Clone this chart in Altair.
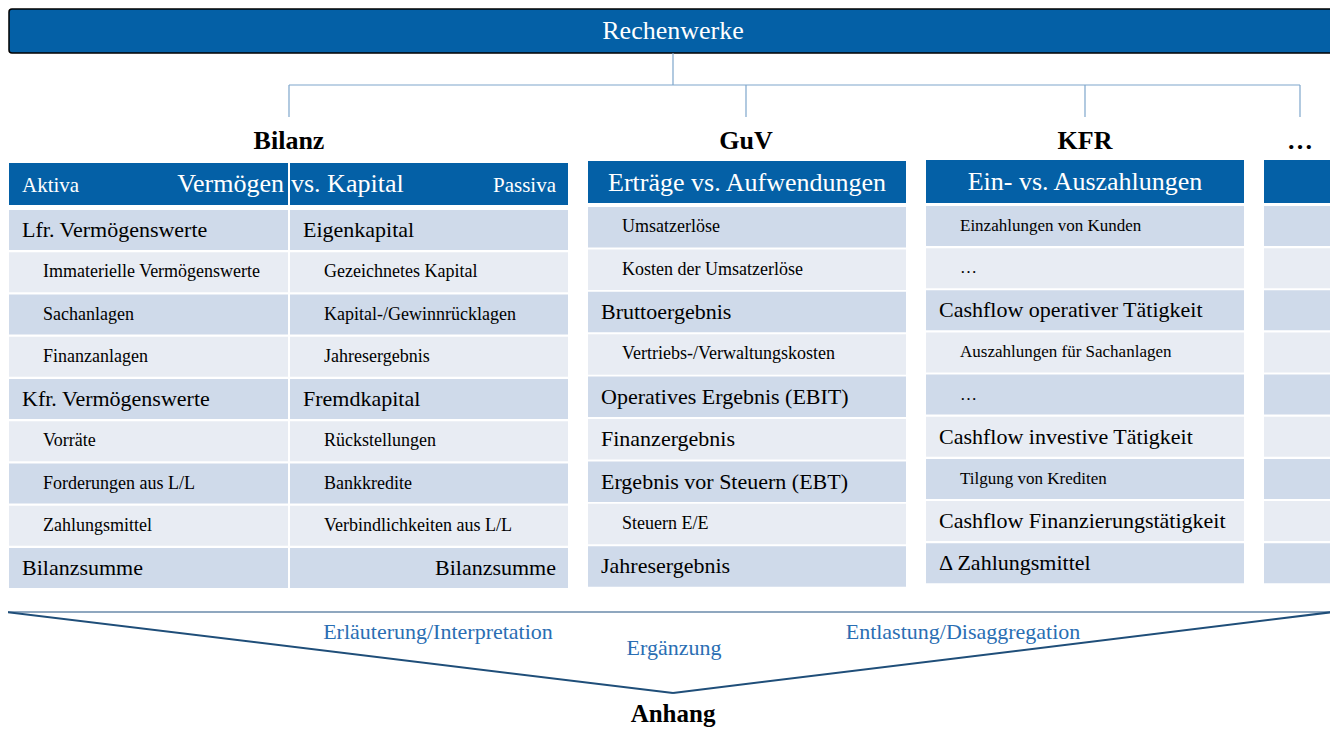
import altair as alt
import pandas as pd

# ---------------- content ----------------
top_title = "Rechenwerke"
statements = ["Bilanz", "GuV", "KFR", "…"]
bilanz_sides = ["Aktiva", "Passiva"]
bilanz_header = ["Vermögen", "vs. Kapital"]
guv_header = "Erträge vs. Aufwendungen"
kfr_header = "Ein- vs. Auszahlungen"

aktiva_items = ["Lfr. Vermögenswerte", "Immaterielle Vermögenswerte", "Sachanlagen",
                "Finanzanlagen", "Kfr. Vermögenswerte", "Vorräte",
                "Forderungen aus L/L", "Zahlungsmittel", "Bilanzsumme"]
aktiva_levels = [0, 1, 1, 1, 0, 1, 1, 1, 0]

passiva_items = ["Eigenkapital", "Gezeichnetes Kapital", "Kapital-/Gewinnrücklagen",
                 "Jahresergebnis", "Fremdkapital", "Rückstellungen", "Bankkredite",
                 "Verbindlichkeiten aus L/L", "Bilanzsumme"]
passiva_levels = [0, 1, 1, 1, 0, 1, 1, 1, 0]

guv_items = ["Umsatzerlöse", "Kosten der Umsatzerlöse", "Bruttoergebnis",
             "Vertriebs-/Verwaltungskosten", "Operatives Ergebnis (EBIT)",
             "Finanzergebnis", "Ergebnis vor Steuern (EBT)", "Steuern E/E",
             "Jahresergebnis"]
guv_levels = [1, 1, 0, 1, 0, 0, 0, 1, 0]

kfr_items = ["Einzahlungen von Kunden", "…", "Cashflow operativer Tätigkeit",
             "Auszahlungen für Sachanlagen", "…", "Cashflow investive Tätigkeit",
             "Tilgung von Krediten", "Cashflow Finanzierungstätigkeit",
             "Δ Zahlungsmittel"]
kfr_levels = [1, 1, 0, 1, 1, 0, 1, 0, 0]

flow_labels = ["Erläuterung/Interpretation", "Ergänzung", "Entlastung/Disaggregation"]
appendix_label = "Anhang"

# ---------------- styling / layout ----------------
FONT = "Liberation Serif"
BLUE = "#0460A6"
ROW_DARK = "#CFDAEA"
ROW_LIGHT = "#E8ECF3"
LINE_LIGHT = "#7EA6CC"
LINE_GREY = "#8FA7BF"
LINE_DARK = "#1F4E79"
LABEL_BLUE = "#2A6EB3"

W, H = 1322, 721
xs = alt.Scale(domain=[8, 8 + W], nice=False, zero=False)
ys = alt.Scale(domain=[8, 8 + H], nice=False, zero=False, reverse=True)

# table geometry: (x_left, x_right, head_top, head_bottom, row_top, pitch, row_h)
tables = {
    "aktiva": (9, 288, 163, 205, 210, 42.25, 40),
    "passiva": (290, 568, 163, 205, 210, 42.25, 40),
    "guv": (588, 906, 161, 203, 207, 42.4, 40.5),
    "kfr": (926, 1244, 160, 203, 206, 42.15, 40),
    "dots": (1264, 1345, 160, 203, 206, 42.15, 40),
}

cells = []
for key, (xl, xr, ht, hb, rt, p, rh) in tables.items():
    cells.append(dict(x=xl, x2=xr, y=ht, y2=hb, fill=BLUE))
    for i in range(9):
        t = rt + i * p
        cells.append(dict(x=xl, x2=xr, y=t, y2=t + rh,
                          fill=ROW_DARK if i % 2 == 0 else ROW_LIGHT))
cells_df = pd.DataFrame(cells)

left_texts = []
right_texts = []
center_texts = []
bold_texts = []


def add_rows(key, items, levels, right_last=False, sub_size=18):
    xl, xr, ht, hb, rt, p, rh = tables[key]
    for i, (lab, lev) in enumerate(zip(items, levels)):
        yc = rt + i * p + rh / 2
        if right_last and i == len(items) - 1:
            right_texts.append(dict(x=xr - 12, y=yc, label=lab, size=22, color="black"))
        else:
            left_texts.append(dict(x=xl + (13 if lev == 0 else 34), y=yc, label=lab,
                                   size=22 if lev == 0 else sub_size, color="black"))


add_rows("aktiva", aktiva_items, aktiva_levels)
add_rows("passiva", passiva_items, passiva_levels, right_last=True)
add_rows("guv", guv_items, guv_levels)
add_rows("kfr", kfr_items, kfr_levels, sub_size=17)

# headers
left_texts.append(dict(x=22, y=186, label=bilanz_sides[0], size=21, color="white"))
right_texts.append(dict(x=556, y=186, label=bilanz_sides[1], size=21, color="white"))
right_texts.append(dict(x=284, y=184, label=bilanz_header[0], size=26, color="white"))
left_texts.append(dict(x=291, y=184, label=bilanz_header[1], size=26, color="white"))
center_texts.append(dict(x=747, y=183, label=guv_header, size=26, color="white"))
center_texts.append(dict(x=1085, y=182, label=kfr_header, size=26, color="white"))
center_texts.append(dict(x=673, y=31, label=top_title, size=26, color="white"))

# statement titles
for lab, xc in zip(statements, [289, 746, 1085, 1300]):
    bold_texts.append(dict(x=xc, y=141, label=lab, size=26, color="black"))
bold_texts.append(dict(x=673, y=714, label=appendix_label, size=25, color="black"))

# flow labels
for lab, xc, yc in zip(flow_labels, [438, 674, 963], [632, 648, 632]):
    center_texts.append(dict(x=xc, y=yc, label=lab, size=22, color=LABEL_BLUE))

# lines
connectors = pd.DataFrame([
    dict(x=673, y=53, x2=673, y2=85),
    dict(x=289, y=85, x2=1300, y2=85),
    dict(x=289, y=85, x2=289, y2=117),
    dict(x=746, y=85, x2=746, y2=117),
    dict(x=1085, y=85, x2=1085, y2=117),
    dict(x=1300, y=85, x2=1300, y2=117),
])
top_edge = pd.DataFrame([dict(x=6, y=612, x2=1333, y2=612)])
v_edges = pd.DataFrame([
    dict(x=6, y=612, x2=673, y2=693),
    dict(x=673, y=693, x2=1333, y2=612),
])
banner = pd.DataFrame([dict(x=9, x2=1336, y=9, y2=53)])


def enc_xy():
    return dict(x=alt.X("x:Q", scale=xs, axis=None),
                y=alt.Y("y:Q", scale=ys, axis=None))


def rules(df, color, width):
    return alt.Chart(df).mark_rule(color=color, strokeWidth=width).encode(
        x2="x2:Q", y2="y2:Q", **enc_xy())


def texts(rows, align="left", weight="normal"):
    df = pd.DataFrame(rows)
    return alt.Chart(df).mark_text(align=align, baseline="middle", font=FONT,
                                   fontWeight=weight).encode(
        text="label:N",
        size=alt.Size("size:Q", scale=None, legend=None),
        color=alt.Color("color:N", scale=None, legend=None),
        **enc_xy())


banner_layer = alt.Chart(banner).mark_rect(fill=BLUE, stroke="black", strokeWidth=1.5,
                                           cornerRadius=3).encode(
    x2="x2:Q", y2="y2:Q", **enc_xy())

cell_layer = alt.Chart(cells_df).mark_rect().encode(
    x2="x2:Q", y2="y2:Q",
    color=alt.Color("fill:N", scale=None, legend=None),
    **enc_xy())

chart = alt.layer(
    banner_layer,
    rules(connectors, LINE_LIGHT, 1.2),
    cell_layer,
    rules(top_edge, LINE_GREY, 2),
    rules(v_edges, LINE_DARK, 2),
    texts(left_texts, "left"),
    texts(right_texts, "right"),
    texts(center_texts, "center"),
    texts(bold_texts, "center", "bold"),
).properties(
    width=W, height=H, padding=0,
    autosize=alt.AutoSizeParams(type="none"),
).configure_view(stroke=None)

chart.save("out.html", embed_options={"renderer": "svg", "actions": False})
